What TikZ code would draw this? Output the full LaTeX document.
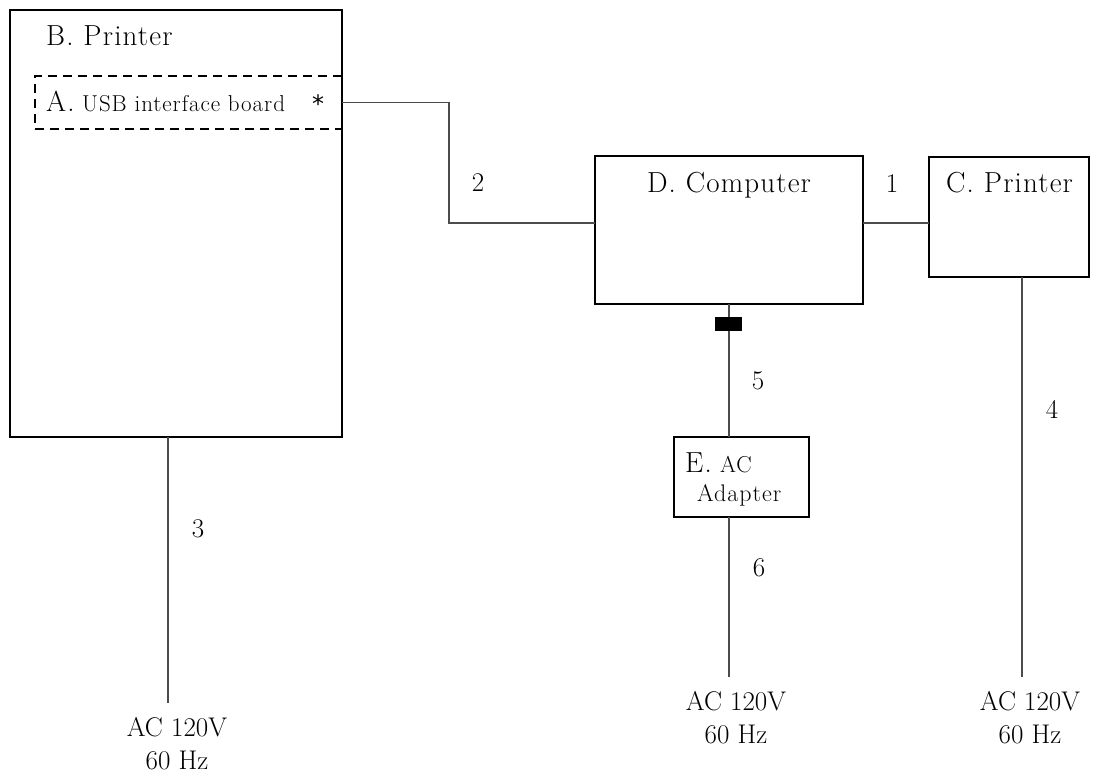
\documentclass[tikz,border=0pt]{standalone}
\usepackage{fontspec}
\setmainfont{Latin Modern Roman}
\newfontfamily\spaced[LetterSpace=4]{Latin Modern Roman}
\newfontfamily\symf{DejaVu Sans}
\newcommand\bigf{\spaced\fontsize{29}{34}\selectfont}
\newcommand\smf{\spaced\fontsize{23}{28}\selectfont}
\newcommand\numf{\fontsize{27}{33}\selectfont}
\begin{document}
\begin{tikzpicture}[x=1pt,y=-1pt,
  box/.style={draw, line width=2.6pt, inner sep=0pt, outer sep=0pt, anchor=north west},
  dbox/.style={draw, line width=2.6pt, dash pattern=on 9pt off 6pt, inner sep=0pt, outer sep=0pt, anchor=north west},
  wire/.style={line width=1.2pt, black!70},
  lbl/.style={inner sep=0pt, anchor=base, font=\numf},
  ctxt/.style={inner sep=0pt, anchor=base, font=\bigf},
  txt/.style={inner sep=0pt, anchor=base west, font=\bigf},
  stxt/.style={inner sep=0pt, anchor=base west, font=\smf},
  acl/.style={inner sep=0pt, anchor=north, align=center, font=\numf}]
\useasboundingbox (0,0) rectangle (1094,774);
% boxes
\node[box, minimum width=332pt, minimum height=427pt] (B) at (10,10) {};
\node[dbox, minimum width=307pt, minimum height=53pt] (A) at (35,76) {};
\node[box, minimum width=268pt, minimum height=148pt] (D) at (595,156) {};
\node[box, minimum width=160pt, minimum height=120pt] (C) at (929,157) {};
\node[box, minimum width=135pt, minimum height=80pt] (E) at (674,437) {};
% box texts
\node[txt] (tB) at (46,45) {B. Printer};
\node[txt] (tA) at (46,111) {A.};
\node[stxt] (tUSB) at (82,111) {USB interface board};
\node[inner sep=0pt, anchor=base west, font=\symf\fontsize{24}{28}\selectfont] (star) at (312,112) {*};
\node[ctxt] (tD) at (729,192) {D. Computer};
\node[txt] (tC) at (946,192) {C. Printer};
\node[txt] (tE) at (685,472) {E.};
\node[stxt] (tAC) at (720,472) {AC};
\node[stxt, font=\spaced\fontsize{24}{29}\selectfont] (tAd) at (697,501) {Adapter};
% coordinates
\coordinate (k2) at (449,223);
\coordinate (k1) at (892,223);
\coordinate (p3) at (168,703);
\coordinate (p6) at (729,677);
\coordinate (p4) at (1022,677);
% connectors
\draw[wire] (A.east) -| (k2) -- (k2 -| D.west);
\draw[wire] (k1 -| D.east) -- (k1 -| C.west);
\draw[wire] (D.south) -- (D.south |- E.north);
\draw[wire] (D.south |- E.south) -- (p6);
\draw[wire] (p3 |- B.south) -- (p3);
\draw[wire] (p4 |- C.south) -- (p4);
\node[fill=black, inner sep=0pt, minimum width=27pt, minimum height=14pt] (plug) at (728.5,324) {};
% cable numbers
\node[lbl] (n2) at (478,191) {2};
\node[lbl] (n1) at (892,192) {1};
\node[lbl] (n5) at (758,389) {5};
\node[lbl] (n6) at (759,576) {6};
\node[lbl] (n3) at (198,537) {3};
\node[lbl] (n4) at (1052,418) {4};
% power labels
\node[acl] (ac3) at (177,717) {AC 120V\\60 Hz};
\node[acl] (ac6) at (736,691) {AC 120V\\60 Hz};
\node[acl] (ac4) at (1030,691) {AC 120V\\60 Hz};
\end{tikzpicture}
\end{document}
